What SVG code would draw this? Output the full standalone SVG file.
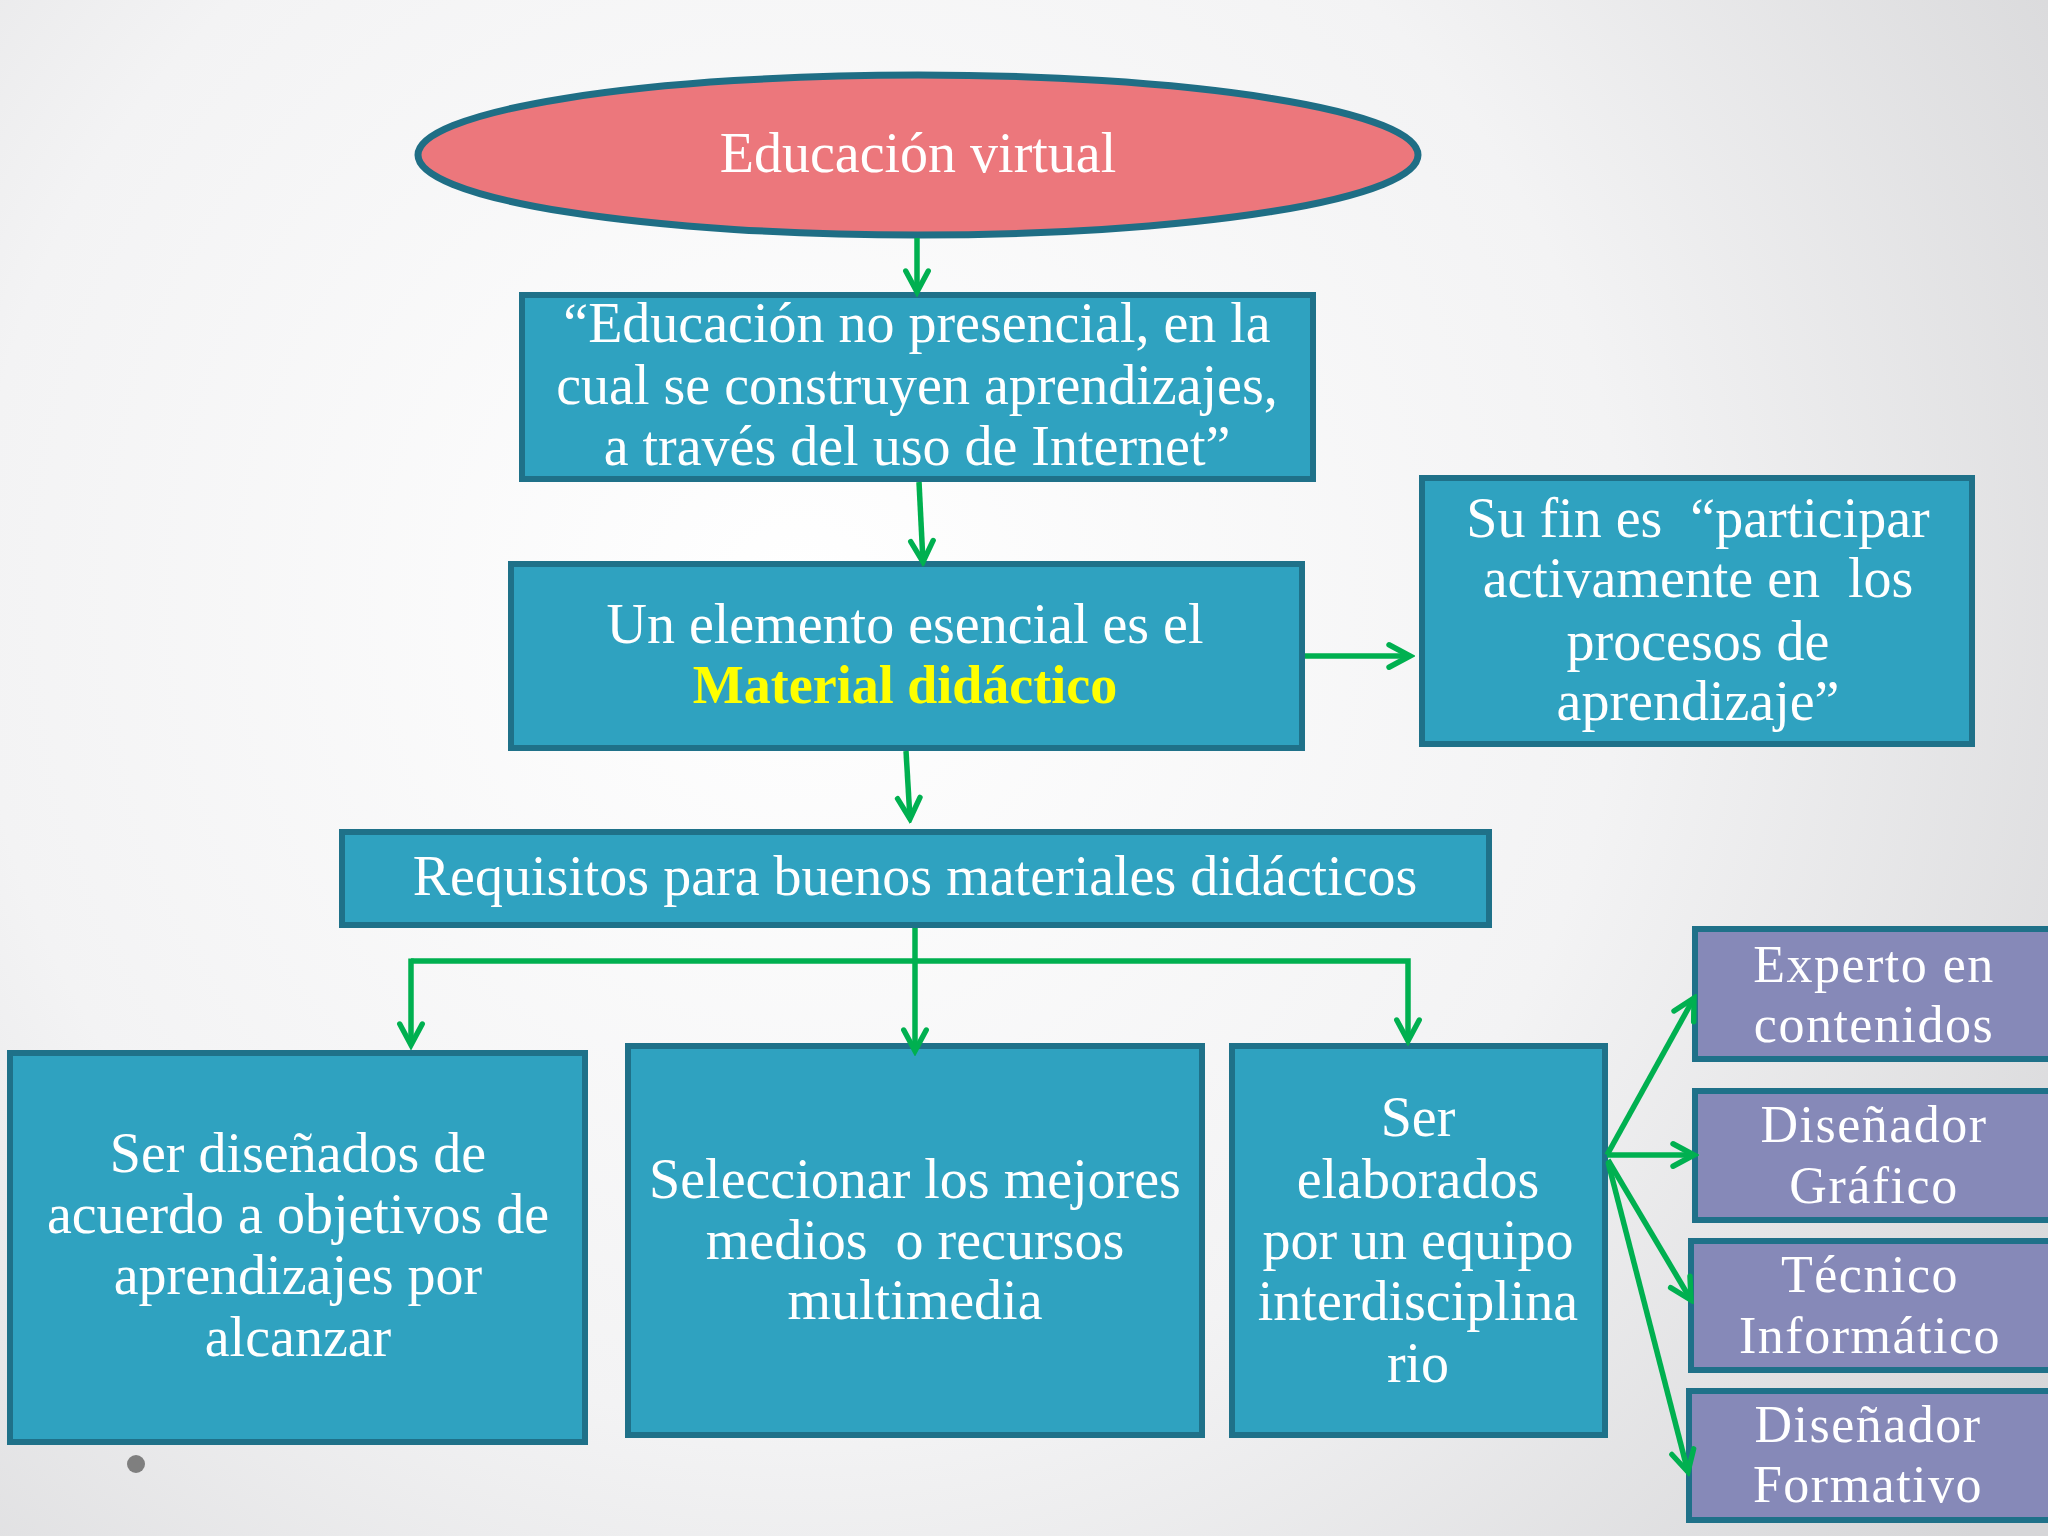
<svg xmlns="http://www.w3.org/2000/svg" width="2048" height="1536" viewBox="0 0 2048 1536">
  <defs>
    <radialGradient id="bg" cx="800" cy="600" r="1500" gradientUnits="userSpaceOnUse">
      <stop offset="0" stop-color="#ffffff"/>
      <stop offset="0.55" stop-color="#f3f3f4"/>
      <stop offset="1" stop-color="#d6d6d8"/>
    </radialGradient>
    <marker id="ah" viewBox="0 0 20 20" refX="17" refY="10" markerWidth="30" markerHeight="30" markerUnits="userSpaceOnUse" orient="auto">
      <path d="M3,2.5 L17,10 L3,17.5" fill="none" stroke="#00B050" stroke-width="3.6" stroke-linecap="round" stroke-linejoin="miter"/>
    </marker>
    <style>
      .box { fill: #2FA2C0; stroke: #1F7189; stroke-width: 6; }
      .pbox { fill: #8689B8; stroke: #1F7189; stroke-width: 6; }
      .ell { fill: #EC777C; stroke: #1F6E85; stroke-width: 7; }
      .t { font-family: "Liberation Serif", "Times New Roman", serif; fill: #ffffff; text-anchor: middle; font-size: 56px; white-space: pre; }
      .pt { font-family: "Liberation Serif", "Times New Roman", serif; fill: #ffffff; text-anchor: middle; font-size: 52px; letter-spacing: 1.5px; }
      .y { fill: #FFFF00; font-weight: bold; font-size: 54px; }
      .c { fill: none; stroke: #00B050; stroke-width: 5.5; }
    </style>
  </defs>
  <rect x="0" y="0" width="2048" height="1536" fill="url(#bg)"/>

  <g id="n-educacion-virtual">
    <ellipse class="ell" cx="918" cy="155" rx="500" ry="80"/>
    <text class="t" x="918" y="172">Educación virtual</text>
  </g>

  <g id="n-definicion">
    <rect class="box" x="522" y="295" width="791" height="184"/>
    <text class="t" x="917" y="342">“Educación no presencial, en la</text>
    <text class="t" x="917" y="404">cual se construyen aprendizajes,</text>
    <text class="t" x="917" y="465">a través del uso de Internet”</text>
  </g>

  <g id="n-elemento">
    <rect class="box" x="511" y="564" width="791" height="184"/>
    <text class="t" x="905" y="643">Un elemento esencial es el</text>
    <text class="t y" x="905" y="703">Material didáctico</text>
  </g>

  <g id="n-su-fin">
    <rect class="box" x="1422" y="478" width="550" height="266"/>
    <text class="t" x="1698" y="537" xml:space="preserve">Su fin es  “participar</text>
    <text class="t" x="1698" y="597" xml:space="preserve">activamente en  los</text>
    <text class="t" x="1698" y="660">procesos de</text>
    <text class="t" x="1698" y="720">aprendizaje”</text>
  </g>

  <g id="n-requisitos">
    <rect class="box" x="342" y="832" width="1147" height="93"/>
    <text class="t" x="915" y="895">Requisitos para buenos materiales didácticos</text>
  </g>

  <g id="n-disenados">
    <rect class="box" x="10" y="1053" width="575" height="389"/>
    <text class="t" x="298" y="1172">Ser diseñados de</text>
    <text class="t" x="298" y="1233">acuerdo a objetivos de</text>
    <text class="t" x="298" y="1294">aprendizajes por</text>
    <text class="t" x="298" y="1356">alcanzar</text>
  </g>

  <g id="n-seleccionar">
    <rect class="box" x="628" y="1046" width="574" height="389"/>
    <text class="t" x="915" y="1198">Seleccionar los mejores</text>
    <text class="t" x="915" y="1259" xml:space="preserve">medios  o recursos</text>
    <text class="t" x="915" y="1319">multimedia</text>
  </g>

  <g id="n-elaborados">
    <rect class="box" x="1232" y="1046" width="373" height="389"/>
    <text class="t" x="1418" y="1136">Ser</text>
    <text class="t" x="1418" y="1198">elaborados</text>
    <text class="t" x="1418" y="1259">por un equipo</text>
    <text class="t" x="1418" y="1320">interdisciplina</text>
    <text class="t" x="1418" y="1382">rio</text>
  </g>

  <g id="n-experto">
    <rect class="pbox" x="1695" y="929" width="360" height="130"/>
    <text class="pt" x="1874" y="982">Experto en</text>
    <text class="pt" x="1874" y="1042">contenidos</text>
  </g>

  <g id="n-grafico">
    <rect class="pbox" x="1695" y="1091" width="360" height="129"/>
    <text class="pt" x="1874" y="1142">Diseñador</text>
    <text class="pt" x="1874" y="1203">Gráfico</text>
  </g>

  <g id="n-tecnico">
    <rect class="pbox" x="1691" y="1241" width="364" height="129"/>
    <text class="pt" x="1870" y="1292">Técnico</text>
    <text class="pt" x="1870" y="1353">Informático</text>
  </g>

  <g id="n-formativo">
    <rect class="pbox" x="1689" y="1391" width="366" height="129"/>
    <text class="pt" x="1868" y="1442">Diseñador</text>
    <text class="pt" x="1868" y="1502">Formativo</text>
  </g>

  <circle id="bullet" cx="136" cy="1464" r="9" fill="#7f7f7f"/>

  <g id="connectors">
    <line class="c" x1="917" y1="238" x2="917" y2="292" marker-end="url(#ah)"/>
    <line class="c" x1="919" y1="482" x2="923" y2="562" marker-end="url(#ah)"/>
    <line class="c" x1="1305" y1="656" x2="1410" y2="656" marker-end="url(#ah)"/>
    <line class="c" x1="906" y1="751" x2="910" y2="819" marker-end="url(#ah)"/>
    <line class="c" x1="915" y1="928" x2="915" y2="961"/>
    <polyline class="c" points="411,961 1408,961 1408,1041" marker-end="url(#ah)"/>
    <path class="c" d="M411,958.5 L411,1045" marker-end="url(#ah)"/>
    <line class="c" x1="915" y1="961" x2="915" y2="1051" marker-end="url(#ah)"/>
    <line class="c" x1="1607" y1="1155" x2="1694" y2="998" marker-end="url(#ah)"/>
    <line class="c" x1="1607" y1="1155" x2="1694" y2="1155" marker-end="url(#ah)"/>
    <line class="c" x1="1608" y1="1160" x2="1691" y2="1300" marker-end="url(#ah)"/>
    <line class="c" x1="1608" y1="1162" x2="1688" y2="1472" marker-end="url(#ah)"/>
  </g>
</svg>
